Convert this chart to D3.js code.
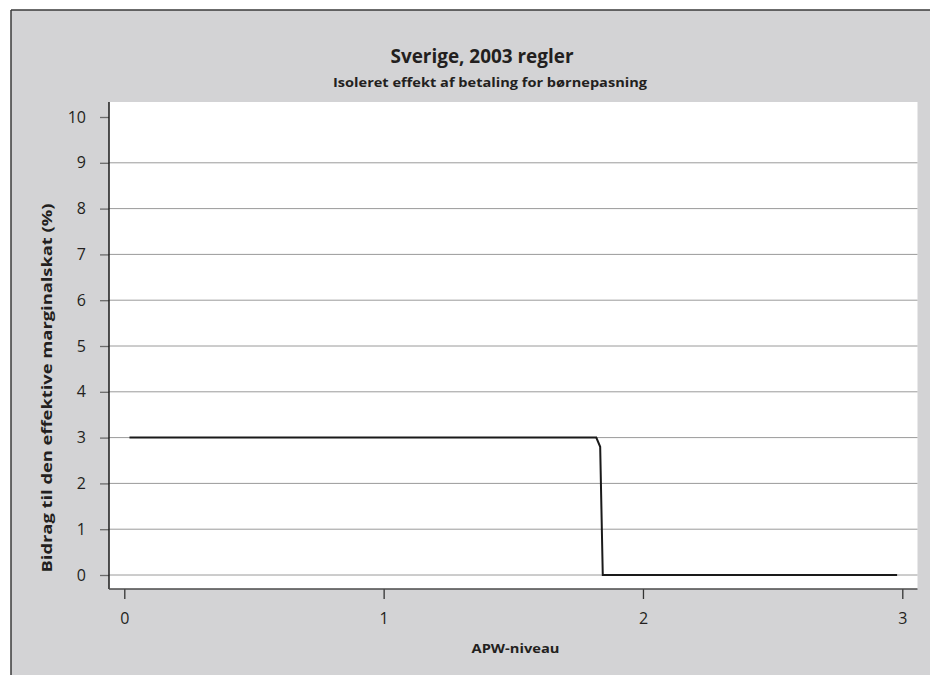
<!DOCTYPE html>
<html>
<head>
<meta charset="utf-8">
<script src="https://cdn.jsdelivr.net/npm/d3@7"></script>
<style>
  html, body { margin: 0; padding: 0; background: #ffffff; }
  svg { display: block; }
  text { font-family: "Open Sans", "DejaVu Sans", sans-serif; fill: #231f20; }
</style>
</head>
<body>
<svg id="chart" width="930" height="675"></svg>
<script>
// ---- data ----
const titleText = "Sverige, 2003 regler";
const subtitleText = "Isoleret effekt af betaling for børnepasning";
const yAxisLabel = "Bidrag til den effektive marginalskat (%)";
const xAxisLabel = "APW-niveau";
const xTicks = [0, 1, 2, 3];
const yTicks = [0, 1, 2, 3, 4, 5, 6, 7, 8, 9, 10];
const apwLevel = [0.02, 1.82, 1.835, 1.845, 2.98];
const contribution = [3, 3, 2.8, 0, 0];

// ---- layout ----
const W = 930, H = 675;
const frame = { left: 11, top: 10 };
const plot = { left: 109, top: 102, right: 917.5, bottom: 589 };

const svg = d3.select("#chart");

// background + frame
svg.append("rect").attr("x", 0).attr("y", 0).attr("width", W).attr("height", H).attr("fill", "#ffffff");
svg.append("rect").attr("x", frame.left).attr("y", frame.top)
  .attr("width", W - frame.left).attr("height", H - frame.top).attr("fill", "#d3d3d5");
svg.append("line").attr("x1", frame.left).attr("x2", frame.left).attr("y1", frame.top).attr("y2", H)
  .attr("stroke", "#3a3a3a").attr("stroke-width", 1.5);
svg.append("line").attr("x1", frame.left).attr("x2", W).attr("y1", frame.top).attr("y2", frame.top)
  .attr("stroke", "#3a3a3a").attr("stroke-width", 1.5);

// plot area
svg.append("rect").attr("x", plot.left).attr("y", plot.top)
  .attr("width", plot.right - plot.left).attr("height", plot.bottom - plot.top).attr("fill", "#ffffff");

const x = d3.scaleLinear().domain([0, 3]).range([124.3, 902.3]);
const y = d3.scaleLinear().domain([0, 10]).range([575, 117]);

// gridlines
svg.append("g").selectAll("line").data(yTicks.filter(d => d < 10)).join("line")
  .attr("x1", plot.left).attr("x2", plot.right)
  .attr("y1", d => y(d)).attr("y2", d => y(d))
  .attr("stroke", "#9a9a9a").attr("stroke-width", 1);

// y axis
const yAxis = d3.axisLeft(y).tickValues(yTicks).tickSize(9).tickPadding(14).tickFormat(d3.format("d"));
const gy = svg.append("g").attr("transform", `translate(${plot.left},0)`).call(yAxis);
gy.attr("font-size", 16);
gy.select(".domain").remove();
gy.selectAll(".tick line").attr("stroke", "#6a6a6a").attr("stroke-width", 1.3);
gy.selectAll(".tick text").style("font-size", "16px").attr("fill", "#333");

// x axis
const xAxis = d3.axisBottom(x).tickValues(xTicks).tickSize(10).tickPadding(14).tickFormat(d3.format("d"));
const gx = svg.append("g").attr("transform", `translate(0,${plot.bottom})`).call(xAxis);
gx.attr("font-size", 16);
gx.select(".domain").remove();
gx.selectAll(".tick line").attr("stroke", "#333").attr("stroke-width", 1.3);
gx.selectAll(".tick text").style("font-size", "16px").attr("fill", "#333");

// axis lines (left + bottom)
svg.append("line").attr("x1", plot.left).attr("x2", plot.left).attr("y1", plot.top).attr("y2", plot.bottom)
  .attr("stroke", "#1a1a1a").attr("stroke-width", 1.5);
svg.append("line").attr("x1", plot.left).attr("x2", plot.right).attr("y1", plot.bottom).attr("y2", plot.bottom)
  .attr("stroke", "#4a4a4a").attr("stroke-width", 1.5);

// data line
const pts = apwLevel.map((v, i) => [v, contribution[i]]);
svg.append("path").datum(pts)
  .attr("fill", "none").attr("stroke", "#1a1a1a").attr("stroke-width", 2)
  .attr("d", d3.line().x(d => x(d[0])).y(d => y(d[1])));

// titles
svg.append("text").attr("x", 482).attr("y", 63).attr("text-anchor", "middle")
  .attr("font-size", 19).attr("font-weight", 700)
  .attr("textLength", 183).attr("lengthAdjust", "spacingAndGlyphs").text(titleText);
svg.append("text").attr("x", 490).attr("y", 87).attr("text-anchor", "middle")
  .attr("font-size", 13).attr("font-weight", 700)
  .attr("textLength", 314).attr("lengthAdjust", "spacingAndGlyphs").text(subtitleText);

// axis labels
svg.append("text").attr("x", 515.5).attr("y", 652.5).attr("text-anchor", "middle")
  .attr("font-size", 13).attr("font-weight", 700)
  .attr("textLength", 88).attr("lengthAdjust", "spacingAndGlyphs").text(xAxisLabel);
svg.append("text").attr("transform", "translate(52,388) rotate(-90)").attr("text-anchor", "middle")
  .attr("font-size", 13.5).attr("font-weight", 700)
  .attr("textLength", 369).attr("lengthAdjust", "spacingAndGlyphs").text(yAxisLabel);
</script>
</body>
</html>
